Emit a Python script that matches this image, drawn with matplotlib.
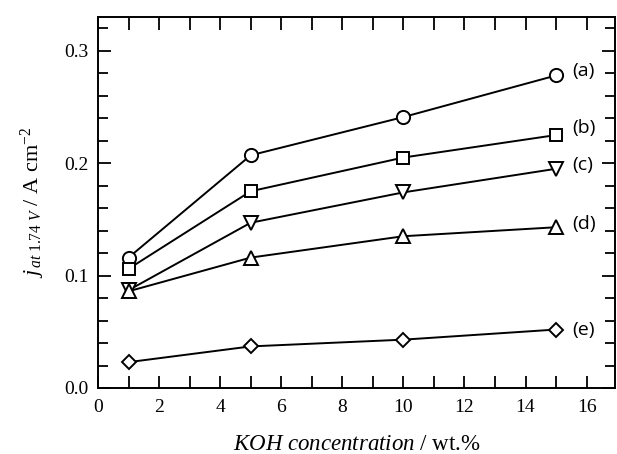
import matplotlib
matplotlib.use("Agg")
import matplotlib.pyplot as plt
from matplotlib.ticker import MultipleLocator, FormatStrFormatter

plt.rcParams['font.family'] = ['Liberation Serif', 'DejaVu Serif']
plt.rcParams['mathtext.fontset'] = 'custom'
plt.rcParams['mathtext.rm'] = 'Liberation Serif'
plt.rcParams['mathtext.it'] = 'Liberation Serif:italic'
plt.rcParams['mathtext.bf'] = 'Liberation Serif:bold'

# Data
koh = [1, 5, 10, 15]
series_labels = ['(a)', '(b)', '(c)', '(d)', '(e)']
j_a = [0.116, 0.207, 0.241, 0.278]
j_b = [0.106, 0.175, 0.205, 0.225]
j_c = [0.087, 0.147, 0.174, 0.195]
j_d = [0.086, 0.116, 0.135, 0.143]
j_e = [0.023, 0.037, 0.043, 0.052]

series = [j_a, j_b, j_c, j_d, j_e]
markers = ['o', 's', 'v', '^', 'D']
msizes = [9.5, 8.5, 9.5, 9.5, 7.5]
label_dy = [3, 5, 3, 2, 0]  # points

fig = plt.figure(figsize=(6.17, 4.54), dpi=100)
ax = fig.add_axes([98/617, 1 - 388/454, (615-98)/617, (388-17)/454])

for vals, m, ms, lab, dy in zip(series, markers, msizes, series_labels, label_dy):
    ax.plot(koh, vals, color='black', lw=1.4, marker=m, ms=ms,
            mfc='white', mec='black', mew=1.4, zorder=3)
    ax.annotate(lab, xy=(koh[-1], vals[-1]), xytext=(12, dy),
                textcoords='offset points', ha='left', va='center',
                fontsize=14, family=['Open Sans', 'DejaVu Sans'])

ax.set_xlim(0, 16.93)
ax.set_ylim(0, 0.33)
ax.xaxis.set_major_locator(MultipleLocator(2))
ax.xaxis.set_minor_locator(MultipleLocator(1))
ax.yaxis.set_major_locator(MultipleLocator(0.1))
ax.yaxis.set_minor_locator(MultipleLocator(0.02))
ax.yaxis.set_major_formatter(FormatStrFormatter('%.1f'))

ax.tick_params(axis='both', which='both', direction='in', top=True, right=True,
               width=1.3, labelsize=14, colors='black')
ax.tick_params(axis='x', which='both', length=9, pad=8)
ax.tick_params(axis='y', which='major', length=9.5, pad=7)
ax.tick_params(axis='y', which='minor', length=7)
for sp in ax.spines.values():
    sp.set_linewidth(1.4)

ax.set_xlabel(r'$KOH\ concentration$ / wt.%', fontsize=16.5, labelpad=13)
ax.set_ylabel(r'$j_{\,at\ 1.74\ V}$ / A cm$^{-2}$', fontsize=16, labelpad=12)

fig.savefig('out.png', dpi=100)
